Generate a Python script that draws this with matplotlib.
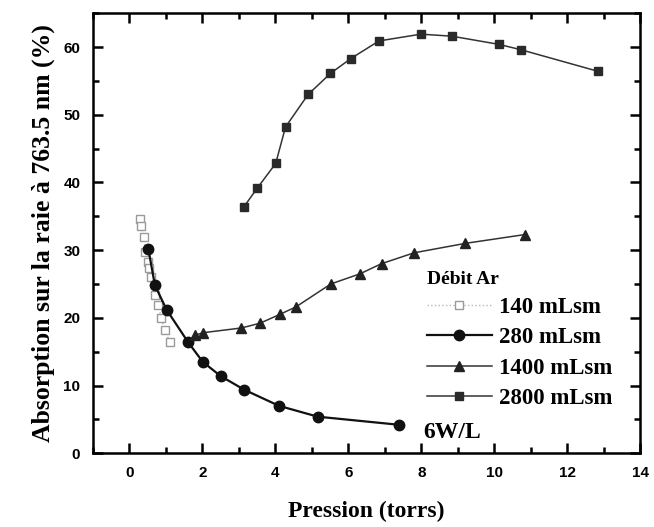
import matplotlib
matplotlib.use("Agg")
import matplotlib.pyplot as plt
from matplotlib.ticker import MultipleLocator

# Débit Ar 140 mLsm
p140 = [0.29, 0.32, 0.40, 0.44, 0.52, 0.53, 0.59, 0.70, 0.79, 0.88, 0.97, 1.11]
a140 = [34.6, 33.6, 31.9, 29.7, 28.3, 27.3, 26.0, 23.3, 21.9, 19.9, 18.2, 16.4]

# 280 mLsm
p280 = [0.52, 0.70, 1.02, 1.61, 2.01, 2.50, 3.14, 4.10, 5.16, 7.39]
a280 = [30.2, 24.8, 21.2, 16.4, 13.5, 11.4, 9.4, 7.0, 5.4, 4.2]

# 1400 mLsm
p1400 = [1.79, 2.02, 3.07, 3.58, 4.12, 4.56, 5.52, 6.32, 6.91, 7.80, 9.21, 10.84]
a1400 = [17.4, 17.8, 18.5, 19.2, 20.5, 21.6, 25.0, 26.5, 28.0, 29.6, 31.0, 32.3]

# 2800 mLsm
p2800 = [3.14, 3.51, 4.01, 4.28, 4.90, 5.51, 6.07, 6.84, 7.99, 8.84, 10.12, 10.73, 12.85]
a2800 = [36.4, 39.2, 42.8, 48.2, 53.0, 56.1, 58.3, 60.9, 61.9, 61.6, 60.4, 59.6, 56.4]

serif = "Liberation Serif"
sans = "Liberation Sans"

fig = plt.figure(figsize=(6.54, 5.27), dpi=100)
ax = fig.add_axes([0.142, 0.140, 0.837, 0.835])

ax.plot(p140, a140, color="#b8b8b8", lw=1.0, ls=":", marker="s", ms=6,
        mfc="white", mec="#9a9a9a", mew=1.0, label="140 mLsm")
ax.plot(p280, a280, color="#111111", lw=1.6, marker="o", ms=7.5,
        mfc="#111111", mec="#111111", label="280 mLsm")
ax.plot(p1400, a1400, color="#333333", lw=1.1, marker="^", ms=7.5,
        mfc="#222222", mec="#222222", label="1400 mLsm")
ax.plot(p2800, a2800, color="#333333", lw=1.1, marker="s", ms=6,
        mfc="#2a2a2a", mec="#2a2a2a", label="2800 mLsm")

ax.set_xlim(-1, 14)
ax.set_ylim(0, 65)
ax.xaxis.set_major_locator(MultipleLocator(2))
ax.xaxis.set_minor_locator(MultipleLocator(1))
ax.yaxis.set_major_locator(MultipleLocator(10))
ax.yaxis.set_minor_locator(MultipleLocator(5))
ax.tick_params(which="both", direction="in", top=True, right=True, width=1.8)
ax.tick_params(which="major", length=7, pad=9)
ax.tick_params(which="minor", length=4)
for s in ax.spines.values():
    s.set_linewidth(1.8)
for lab in ax.get_xticklabels() + ax.get_yticklabels():
    lab.set_fontfamily(sans)
    lab.set_fontweight("bold")
    lab.set_fontsize(11)

ax.set_xlabel("Pression (torrs)", family=serif, fontweight="bold", fontsize=17, labelpad=15)
ax.set_ylabel("Absorption sur la raie à 763.5 nm (%)", family=serif, fontweight="bold",
              fontsize=18.5, labelpad=6)

leg = ax.legend(loc="upper left", bbox_to_anchor=(0.589, 0.44), frameon=False,
                title="Débit Ar", alignment="left", borderpad=0, handlelength=2.85,
                handletextpad=0.3, labelspacing=0.4,
                prop={"family": serif, "weight": "bold", "size": 16.5},
                title_fontproperties={"family": serif, "weight": "bold", "size": 14})

ax.text(8.05, 3.0, "6W/L", family=serif, fontweight="bold", fontsize=17, va="center")

fig.savefig("out.png", dpi=100)
